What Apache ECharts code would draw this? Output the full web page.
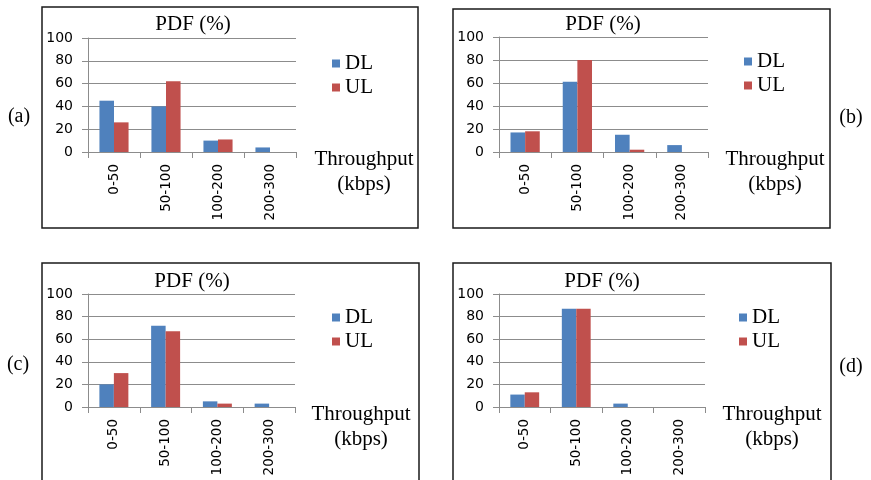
<!DOCTYPE html>
<html><head><meta charset="utf-8">
<script src="https://cdn.jsdelivr.net/npm/echarts@6/dist/echarts.min.js"></script>
<style>html,body{margin:0;padding:0;background:#fff}#c{width:871px;height:480px}</style>
</head><body><div id="c"></div>
<script>
const categories = ['0-50', '50-100', '100-200', '200-300'];
const yTicks = [0, 20, 40, 60, 80, 100];
const panelLabels = ['(a)', '(b)', '(c)', '(d)'];
const dlA = [45, 40, 10, 4];
const ulA = [26, 62, 11, 0];
const dlB = [17, 61, 15, 6];
const ulB = [18, 80, 2, 0];
const dlC = [20, 72, 5, 3];
const ulC = [30, 67, 3, 0];
const dlD = [11, 87, 3, 0];
const ulD = [13, 87, 0, 0];

const DL = [dlA, dlB, dlC, dlD];
const UL = [ulA, ulB, ulC, ulD];

const blue = '#4F81BD', red = '#C0504D';
const serif = '"Liberation Serif", "Times New Roman", serif';
const sans = '"DejaVu Sans", "Liberation Sans", sans-serif';

const layout = [
  {grid:{left:88, top:38, width:208, height:114}, box:[42,7,376,221], title:[193,24], leg:[327,48], tp:[364,159], pl:[19,117]},
  {grid:{left:499, top:37, width:209, height:115}, box:[453,9,377,219], title:[603,24], leg:[739,46], tp:[775,159], pl:[851,118]},
  {grid:{left:88, top:294, width:207, height:113}, box:[42,263,377,240], title:[192,281], leg:[327,302], tp:[361,414], pl:[18,365]},
  {grid:{left:499, top:294, width:206, height:113}, box:[453,263,378,240], title:[602,281], leg:[734,302], tp:[772,414], pl:[851,367]}
];

const grids = [], xAxes = [], yAxes = [], series = [], legends = [], graphics = [];
layout.forEach((L, i) => {
  grids.push(Object.assign({containLabel:false}, L.grid));
  xAxes.push({type:'category', gridIndex:i, data:categories,
    axisLine:{lineStyle:{color:'#8c8c8c'}},
    axisTick:{show:true, length:6, lineStyle:{color:'#8c8c8c'}},
    axisLabel:{rotate:90, margin:12, fontFamily:sans, fontSize:13.5, color:'#000'}});
  yAxes.push({type:'value', gridIndex:i, min:yTicks[0], max:yTicks[yTicks.length-1], interval:20,
    axisLine:{show:true, lineStyle:{color:'#8c8c8c'}},
    axisTick:{show:true, length:6, lineStyle:{color:'#8c8c8c'}},
    splitLine:{lineStyle:{color:'#8c8c8c', width:1}},
    axisLabel:{fontFamily:sans, fontSize:14, color:'#000', margin:15}});
  series.push({name:'DL', type:'bar', xAxisIndex:i, yAxisIndex:i, data:DL[i], itemStyle:{color:blue},
    barGap:'0%', barCategoryGap:'44%', animation:false});
  series.push({name:'UL', type:'bar', xAxisIndex:i, yAxisIndex:i, data:UL[i], itemStyle:{color:red},
    barGap:'0%', barCategoryGap:'44%', animation:false});
  legends.push({data:['DL','UL'], orient:'vertical', left:L.leg[0], top:L.leg[1], icon:'rect',
    itemWidth:8, itemHeight:8, itemGap:3, textStyle:{fontFamily:serif, fontSize:21, color:'#000'}});
  graphics.push({type:'rect', shape:{x:L.box[0], y:L.box[1], width:L.box[2], height:L.box[3]},
    style:{fill:'none', stroke:'#1a1a1a', lineWidth:1.5}, silent:true});
  graphics.push({type:'text', x:L.title[0], y:L.title[1], style:{text:'PDF (%)', font:'21px ' + serif, fill:'#000', textAlign:'center', textVerticalAlign:'middle'}});
  graphics.push({type:'text', x:L.tp[0], y:L.tp[1], style:{text:'Throughput', font:'21px ' + serif, fill:'#000', textAlign:'center', textVerticalAlign:'middle'}});
  graphics.push({type:'text', x:L.tp[0], y:L.tp[1]+25, style:{text:'(kbps)', font:'21px ' + serif, fill:'#000', textAlign:'center', textVerticalAlign:'middle'}});
  graphics.push({type:'text', x:L.pl[0], y:L.pl[1], style:{text:panelLabels[i], font:'20px ' + serif, fill:'#000', textAlign:'center', textVerticalAlign:'middle'}});
});

const chart = echarts.init(document.getElementById('c'), null, {renderer:'canvas'});
chart.setOption({animation:false, grid:grids, xAxis:xAxes, yAxis:yAxes, series:series, legend:legends, graphic:graphics});
</script></body></html>
